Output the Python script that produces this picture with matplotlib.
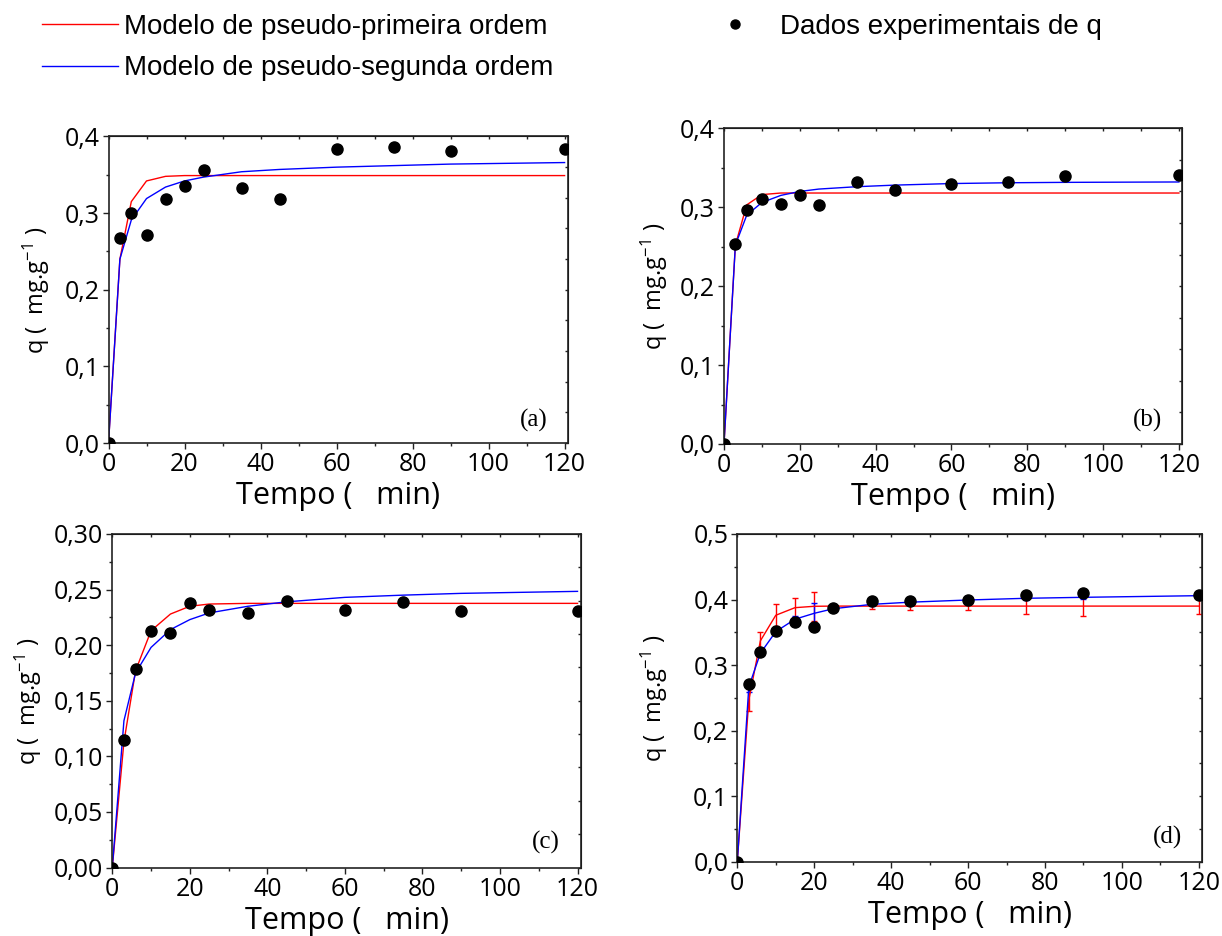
import matplotlib
matplotlib.use('Agg')
import matplotlib.pyplot as plt
from matplotlib.lines import Line2D
from matplotlib.ticker import MultipleLocator, FuncFormatter
import numpy as np

plt.rcParams['font.family'] = ['Open Sans', 'DejaVu Sans']
plt.rcParams['mathtext.fontset'] = 'custom'
plt.rcParams['mathtext.rm'] = 'Open Sans'
plt.rcParams['mathtext.it'] = 'Open Sans'

# tempo (min)
t = [0, 3, 6, 10, 15, 20, 25, 35, 45, 60, 75, 90, 120]

# (a)
qa_exp = [0, 0.267, 0.300, 0.271, 0.318, 0.336, 0.356, 0.333, 0.318, 0.384, 0.386, 0.381, 0.384]
qa_pfo = [0, 0.240, 0.315, 0.342, 0.348, 0.349, 0.349, 0.349, 0.349, 0.349, 0.349, 0.349, 0.349]
qa_pso = [0, 0.240, 0.291, 0.319, 0.334, 0.342, 0.347, 0.354, 0.357, 0.360, 0.362, 0.364, 0.366]

# (b)
qb_exp = [0, 0.254, 0.296, 0.310, 0.304, 0.316, 0.303, 0.332, 0.322, 0.329, 0.332, 0.340, 0.341]
qb_pfo = [0, 0.252, 0.303, 0.316, 0.318, 0.318, 0.318, 0.318, 0.318, 0.318, 0.318, 0.318, 0.318]
qb_pso = [0, 0.252, 0.290, 0.306, 0.315, 0.320, 0.323, 0.326, 0.328, 0.330, 0.331, 0.3315, 0.332]

# (c)
qc_exp = [0, 0.1146, 0.179, 0.213, 0.211, 0.238, 0.2316, 0.2286, 0.240, 0.2319, 0.2385, 0.2307, 0.2304]
qc_pfo = [0, 0.113, 0.177, 0.213, 0.228, 0.235, 0.237, 0.2376, 0.2376, 0.2376, 0.2376, 0.2376, 0.2376]
qc_pso = [0, 0.132, 0.175, 0.198, 0.214, 0.223, 0.229, 0.235, 0.239, 0.243, 0.245, 0.2466, 0.2484]

# (d)
qd_exp = [0, 0.2707, 0.3204, 0.3525, 0.3657, 0.3586, 0.3876, 0.3973, 0.3978, 0.3998, 0.4074, 0.4105, 0.4074]
qd_pfo = [0, 0.247, 0.337, 0.376, 0.3876, 0.3897, 0.390, 0.390, 0.390, 0.390, 0.390, 0.390, 0.390]
qd_pfo_err = [0, 0.017, 0.013, 0.017, 0.015, 0.022, 0.003, 0.005, 0.006, 0.006, 0.0127, 0.0145, 0.0127]
qd_pso = [0, 0.267, 0.318, 0.351, 0.370, 0.379, 0.386, 0.3927, 0.396, 0.3993, 0.4019, 0.4034, 0.4059]
qd_pso_err = [0, 0.008, 0.004, 0.004, 0.005, 0.015, 0.003, 0.003, 0.002, 0.002, 0.003, 0.003, 0.002]

panels = [
    ('(a)', qa_exp, qa_pfo, qa_pso, None, None, 0.4, 0.1, 1),
    ('(b)', qb_exp, qb_pfo, qb_pso, None, None, 0.4, 0.1, 1),
    ('(c)', qc_exp, qc_pfo, qc_pso, None, None, 0.30, 0.05, 2),
    ('(d)', qd_exp, qd_pfo, qd_pso, qd_pfo_err, qd_pso_err, 0.5, 0.1, 1),
]

# axes rectangles in pixels: left, right, top, bottom
W, H = 1222, 936
boxes = [(108.5, 568, 136.5, 443), (724, 1182.3, 128.3, 444),
         (112.3, 581, 534, 867.5), (737.3, 1202.3, 534, 861.7)]
ylab_x = [-0.123, -0.118, -0.146, -0.145]

fig = plt.figure(figsize=(W / 100, H / 100), dpi=100)
spine_col = '#222222'

for (name, qe, q1, q2, e1, e2, ytop, ystep, dec), (l, r, tp, b), ylx in zip(panels, boxes, ylab_x):
    ax = fig.add_axes([l / W, 1 - b / H, (r - l) / W, (b - tp) / H])
    if e1 is None:
        ax.plot(t, q1, color='red', lw=1.0, zorder=2)
        ax.plot(t, q2, color='blue', lw=1.0, zorder=2)
    else:
        ax.errorbar(t, q1, yerr=e1, color='red', lw=1.0, elinewidth=1.0,
                    capsize=2.5, capthick=1.0, zorder=2)
        ax.errorbar(t, q2, yerr=e2, color='blue', lw=1.0, elinewidth=1.0,
                    capsize=2.5, capthick=1.0, zorder=2)
    ax.plot(t, qe, 'o', color='black', ms=8, zorder=3)

    ax.set_xlim(0, 120.9)
    ax.set_ylim(0, ytop)
    ax.xaxis.set_major_locator(MultipleLocator(20))
    ax.xaxis.set_minor_locator(MultipleLocator(10))
    ax.yaxis.set_major_locator(MultipleLocator(ystep))
    ax.yaxis.set_minor_locator(MultipleLocator(ystep / 2))
    ax.yaxis.set_major_formatter(FuncFormatter(lambda v, p, d=dec: f'{v:.{d}f}'.replace('.', ',')))
    ax.tick_params(which='major', direction='out', length=4.5, width=1.0,
                   labelsize=18, colors=spine_col, labelcolor='black', pad=2)
    ax.tick_params(which='minor', direction='out', length=2.5, width=1.0, colors=spine_col)
    for s in ax.spines.values():
        s.set_color(spine_col)
        s.set_linewidth(1.2)

    top = ax.secondary_xaxis('top')
    top.set_xticks(np.arange(0, 121, 10))
    top.tick_params(direction='in', length=2.5, width=1.0, colors=spine_col, labeltop=False)
    right = ax.secondary_yaxis('right')
    right.set_yticks(np.linspace(0, ytop, 11))
    right.tick_params(direction='in', length=2.5, width=1.0, colors=spine_col, labelright=False)

    ax.set_xlabel('Tempo (   min)', fontsize=22, labelpad=3)
    ax.set_ylabel(r'q (  mg.g$^{-1}$ )', fontsize=17)
    ax.yaxis.set_label_coords(ylx, 0.5)
    ax.text(0.925, 0.075, name, transform=ax.transAxes, fontsize=18,
            family='Liberation Serif', ha='center', va='center')

handles = [Line2D([], [], color='red', lw=1.0),
           Line2D([], [], color='blue', lw=1.0),
           Line2D([], [], ls='none', marker='o', color='black', ms=6.5)]
labels = ['Modelo de pseudo-primeira ordem', 'Modelo de pseudo-segunda ordem',
          'Dados experimentais de q']
fig.legend(handles, labels, ncol=2, loc='upper left', bbox_to_anchor=(42 / W, 1 - 14 / H),
           frameon=False, borderpad=0, borderaxespad=0, handlelength=2.72, handletextpad=0.25,
           columnspacing=5.17, labelspacing=0.55, prop={'family': 'Liberation Sans', 'size': 20})

fig.savefig('out.png', dpi=100)
